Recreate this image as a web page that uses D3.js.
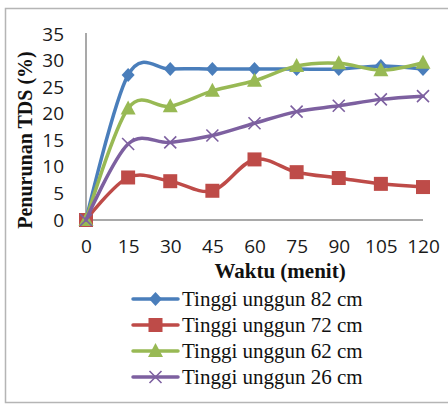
<!DOCTYPE html>
<html>
<head>
<meta charset="utf-8">
<script src="https://cdn.jsdelivr.net/npm/d3@7"></script>
<style>
  html, body { margin: 0; padding: 0; background: #fff; }
  svg { display: block; }
</style>
</head>
<body>
<div id="chart"></div>
<script>
// Waktu pengamatan (menit)
const times = [0, 15, 30, 45, 60, 75, 90, 105, 120];
const yTicks = [0, 5, 10, 15, 20, 25, 30, 35];

// Penurunan TDS (%) untuk tiap tinggi unggun
const series82 = [0, 27.3, 28.4, 28.4, 28.4, 28.4, 28.4, 29.0, 28.4];
const series72 = [0, 8.0, 7.3, 5.5, 11.4, 9.0, 7.9, 6.8, 6.2];
const series62 = [0, 21.0, 21.4, 24.3, 26.2, 29.0, 29.5, 28.2, 29.6];
const series26 = [0, 14.3, 14.6, 15.9, 18.2, 20.4, 21.5, 22.7, 23.3];

const seriesNames = ["Tinggi unggun 82 cm", "Tinggi unggun 72 cm", "Tinggi unggun 62 cm", "Tinggi unggun 26 cm"];

const series = [
  { name: seriesNames[0], values: series82, color: "#4A7EBB", marker: "diamond" },
  { name: seriesNames[1], values: series72, color: "#BE4B48", marker: "square" },
  { name: seriesNames[2], values: series62, color: "#98B954", marker: "triangle" },
  { name: seriesNames[3], values: series26, color: "#7D60A0", marker: "cross" }
];

const W = 448, H = 405;
const svg = d3.select("#chart").append("svg").attr("width", W).attr("height", H);

// chart frame
svg.append("rect")
  .attr("x", 5.5).attr("y", 8.5).attr("width", 460).attr("height", 394)
  .attr("fill", "#fff").attr("stroke", "#b5b5b5").attr("stroke-width", 1.5);

const x = d3.scaleLinear().domain([0, 120]).range([86, 423]);
const y = d3.scaleLinear().domain([0, 35]).range([220, 34]);

const tickFont = "'Open Sans', 'Liberation Sans', sans-serif";
const titleFont = "'Liberation Serif', 'Times New Roman', serif";

// axes
const yAxis = svg.append("g").attr("transform", `translate(${x(0)},0)`)
  .call(d3.axisLeft(y).tickValues(yTicks).tickSize(0).tickPadding(22));
const xAxis = svg.append("g").attr("transform", `translate(0,${y(0)})`)
  .call(d3.axisBottom(x).tickValues(times).tickSize(0).tickPadding(20));

[yAxis, xAxis].forEach(g => {
  g.select(".domain").attr("stroke", "#8c8c8c").attr("stroke-width", 1.5);
  g.selectAll("text")
    .attr("font-family", tickFont).attr("font-size", 19).attr("fill", "#1a1a1a");
});
yAxis.select(".domain").attr("d", `M0,${y(35) - 1}V${y(0)}`);
xAxis.select(".domain").attr("d", `M${x(0)},0H${x(120)}`);

// axis titles
svg.append("text")
  .attr("transform", "translate(32,140) rotate(-90)")
  .attr("text-anchor", "middle")
  .attr("font-family", titleFont).attr("font-weight", "bold").attr("font-size", 20)
  .attr("fill", "#111")
  .text("Penurunan TDS (%)");

svg.append("text")
  .attr("x", 280).attr("y", 278)
  .attr("text-anchor", "middle")
  .attr("font-family", titleFont).attr("font-weight", "bold").attr("font-size", 21)
  .attr("fill", "#111")
  .text("Waktu (menit)");

// markers
function drawMarker(g, type, color, cx, cy) {
  if (type === "diamond") {
    g.append("path").attr("d", `M${cx},${cy - 7}L${cx + 6.5},${cy}L${cx},${cy + 7}L${cx - 6.5},${cy}Z`)
      .attr("fill", color);
  } else if (type === "square") {
    g.append("rect").attr("x", cx - 7).attr("y", cy - 7).attr("width", 14).attr("height", 14)
      .attr("fill", color);
  } else if (type === "triangle") {
    g.append("path").attr("d", `M${cx},${cy - 8}L${cx + 7.5},${cy + 6}L${cx - 7.5},${cy + 6}Z`)
      .attr("fill", color);
  } else if (type === "cross") {
    g.append("path").attr("d", `M${cx - 6},${cy - 6}L${cx + 6},${cy + 6}M${cx - 6},${cy + 6}L${cx + 6},${cy - 6}`)
      .attr("stroke", color).attr("stroke-width", 1.6).attr("fill", "none");
  }
}

const line = d3.line()
  .x((d, i) => x(times[i]))
  .y(d => y(d))
  .curve(d3.curveCatmullRom.alpha(0));

const plot = svg.append("g");
series.forEach(s => {
  const g = plot.append("g");
  g.append("path").datum(s.values)
    .attr("d", line)
    .attr("fill", "none").attr("stroke", s.color).attr("stroke-width", 3.5)
    .attr("stroke-linejoin", "round").attr("stroke-linecap", "round");
  s.values.forEach((v, i) => drawMarker(g, s.marker, s.color, x(times[i]), y(v)));
});

// legend
const legend = svg.append("g");
const rowY = [299, 325, 351, 377];
series.forEach((s, i) => {
  const g = legend.append("g");
  g.append("line").attr("x1", 133).attr("x2", 178).attr("y1", rowY[i]).attr("y2", rowY[i])
    .attr("stroke", s.color).attr("stroke-width", 3.5).attr("stroke-linecap", "round");
  drawMarker(g, s.marker, s.color, 155.5, rowY[i]);
  g.append("text").attr("x", 182).attr("y", rowY[i] + 7)
    .attr("font-family", titleFont).attr("font-size", 21).attr("fill", "#111")
    .text(s.name);
});
</script>
</body>
</html>
